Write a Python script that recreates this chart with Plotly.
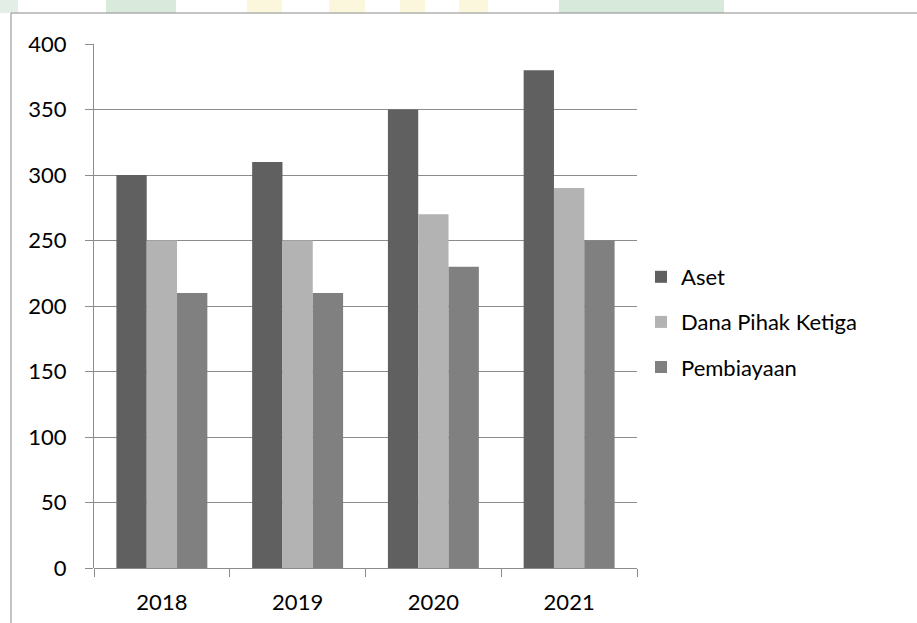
import plotly.graph_objects as go

years = ["2018", "2019", "2020", "2021"]
aset = [300, 310, 350, 380]
dpk = [250, 250, 270, 290]
pembiayaan = [210, 210, 230, 250]
series_names = ["Aset", "Dana Pihak Ketiga", "Pembiayaan"]
series_colors = ["#606060", "#b3b3b3", "#808080"]
y_ticks = [0, 50, 100, 150, 200, 250, 300, 350, 400]

W, H = 917, 623
L, R, T, B = 94, 280, 44, 55
pw, ph = W - L - R, H - T - B

def px_x(v):
    return (v - L) / pw

def px_y(v):
    return (H - B - v) / ph

fig = go.Figure()
for name, vals, col in zip(series_names, [aset, dpk, pembiayaan], series_colors):
    fig.add_trace(go.Bar(x=years, y=vals, name=name, marker_color=col,
                         marker_line_width=0, legendgroup=name))

shapes = []
# faint watermark bits at top
for x0, x1, c in [(0, 18, "#e3efe6"), (106, 176, "#d9eadd"), (247, 282, "#fbf7dc"),
                  (329, 365, "#fbf7dc"), (400, 425, "#fbf7dc"), (459, 488, "#fbf7dc"),
                  (559, 724, "#d6e9da")]:
    shapes.append(dict(type="rect", xref="paper", yref="paper",
                       x0=px_x(x0), x1=px_x(x1), y0=px_y(13), y1=px_y(0),
                       line_width=0, fillcolor=c, layer="below"))
# chart border
shapes.append(dict(type="rect", xref="paper", yref="paper",
                   x0=px_x(11), x1=px_x(930), y0=px_y(640), y1=px_y(13),
                   line=dict(color="#8a8a8a", width=1), fillcolor="white", layer="below"))

fig.update_layout(
    width=W, height=H,
    margin=dict(l=L, r=R, t=T, b=B),
    paper_bgcolor="white", plot_bgcolor="rgba(0,0,0,0)",
    barmode="group", bargap=0.33, bargroupgap=0,
    font=dict(family="Lato", size=22, color="#000000"),
    shapes=shapes,
    legend=dict(x=px_x(641), xanchor="left", y=px_y(322), yanchor="middle",
                traceorder="grouped", tracegroupgap=13.5,
                font=dict(family="Lato", size=22), bgcolor="rgba(0,0,0,0)"),
    xaxis=dict(showgrid=False, showline=False, ticks="outside", tickson="boundaries",
               ticklen=8, tickcolor="#8c8c8c", tickwidth=1, ticklabelstandoff=19,
               automargin=False),
    yaxis=dict(range=[0, 400], tickvals=y_ticks, showgrid=True, gridcolor="#8c8c8c",
               gridwidth=1, showline=True, linecolor="#8c8c8c", linewidth=1,
               ticks="outside", ticklen=8, tickcolor="#8c8c8c", tickwidth=1,
               zeroline=True, zerolinecolor="#8c8c8c", zerolinewidth=1,
               ticklabelstandoff=14, automargin=False),
)

fig.write_html("out.html")
